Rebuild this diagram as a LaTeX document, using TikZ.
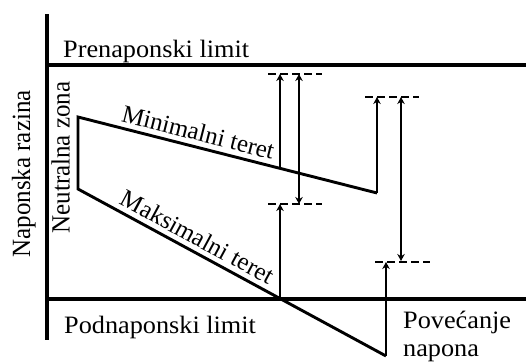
\documentclass[tikz,border=0pt]{standalone}
\usepackage{fontspec}
\setmainfont{Liberation Serif}
\usetikzlibrary{arrows.meta}
\begin{document}
\begin{tikzpicture}[x=1pt,y=-1pt,
  lbl/.style={font=\fontsize{25}{29}\selectfont, inner sep=0pt},
  axisline/.style={line width=3.4pt},
  curve/.style={line width=2.9pt, line join=miter},
  arr/.style={line width=2.6pt, -{Stealth[length=7pt,width=7.5pt]}},
  darr/.style={line width=2.6pt, {Stealth[length=7pt,width=7.5pt]}-{Stealth[length=7pt,width=7.5pt]}},
  lvl/.style={line width=2.8pt, dash pattern=on 8pt off 4pt}]
\useasboundingbox (0,0) rectangle (526,362);
% axes and limits
\coordinate (axT) at (47,14);
\coordinate (axB) at (47,340);
\coordinate (upL) at (47,65);
\coordinate (upR) at (526,65);
\coordinate (loL) at (47,299);
\coordinate (loR) at (526,299);
\draw[axisline] (axT) -- (axB);
\draw[axisline] (upL) -- (upR);
\draw[axisline] (loL) -- (loR);
% load lines
\coordinate (N1) at (78,117);
\coordinate (N2) at (78,189);
\coordinate (MinEnd) at (377,193);
\coordinate (MinTip) at (377,97);
\coordinate (MaxEnd) at (386,356);
\coordinate (MaxTip) at (386,262);
\draw[curve] (MinEnd) -- (N1) -- (N2) -- (MaxEnd);
\path (N1) -- (MinEnd) node[lbl, sloped, above=6pt, pos=0.39] (mintxt) {Minimalni teret};
\path (N2) -- (MaxEnd) node[lbl, sloped, above=6pt, pos=0.365] (maxtxt) {Maksimalni teret};
% arrows
\coordinate (A1b) at (280,168);
\coordinate (A1t) at (280,74);
\coordinate (A3b) at (280,299);
\coordinate (A3t) at (280,204);
\coordinate (D1t) at (299,74);
\coordinate (D1b) at (299,204);
\coordinate (D2t) at (401,97);
\coordinate (D2b) at (401,261);
\draw[arr] (A1b) -- (A1t);
\draw[arr] (A3b) -- (A3t);
\draw[arr] (MinEnd) -- (MinTip);
\draw[arr] (MaxEnd) -- (MaxTip);
\draw[darr] (D1t) -- (D1b);
\draw[darr] (D2t) -- (D2b);
% level marks
\coordinate (L1a) at (268,74);  \coordinate (L1b) at (322,74);
\coordinate (L2a) at (365,97);  \coordinate (L2b) at (419,97);
\coordinate (L3a) at (268,204); \coordinate (L3b) at (322,204);
\coordinate (L4a) at (375,262); \coordinate (L4b) at (430,262);
\draw[lvl] (L1a) -- (L1b);
\draw[lvl] (L2a) -- (L2b);
\draw[lvl] (L3a) -- (L3b);
\draw[lvl] (L4a) -- (L4b);
% labels
\node[lbl, anchor=base west] (pre) at (63,57) {\scalebox{1.05}[1]{Prenaponski limit}};
\node[lbl, anchor=base west] (pod) at (64,333) {\scalebox{1.05}[1]{Podnaponski limit}};
\node[lbl, anchor=base west] (pov) at (403,328) {\scalebox{1.05}[1]{Povećanje}};
\node[lbl, anchor=base west] (nap) at (403,356) {\scalebox{1.05}[1]{napona}};
\node[lbl, anchor=base, rotate=90] (razina) at (30,174) {\scalebox{1}[1.05]{Naponska razina}};
\node[lbl, anchor=base, rotate=90] (neutral) at (69.5,157.5) {\scalebox{1}[1.05]{Neutralna zona}};
\end{tikzpicture}
\end{document}
